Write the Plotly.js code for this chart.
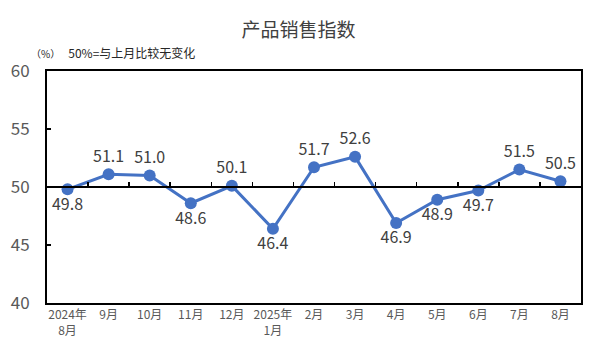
<!DOCTYPE html>
<html><head><meta charset="utf-8">
<script src="https://cdn.plot.ly/plotly-3.0.1.min.js"></script>
<style>body{margin:0;padding:0;background:#fff}#chart{width:591px;height:354px}</style>
</head><body><div id="chart"></div>
<script>
const months = ["2024年<br>8月","9月","10月","11月","12月","2025年<br>1月","2月","3月","4月","5月","6月","7月","8月"];
const salesIndex = [49.8,51.1,51.0,48.6,50.1,46.4,51.7,52.6,46.9,48.9,49.7,51.5,50.5];
const labelPos = ["bottom center","top center","top center","bottom center","top center","bottom center","top center","top center","bottom center","bottom center","bottom center","top center","top center"];
const yTicks = [40,45,50,55,60];
const FONT = '"Noto Sans CJK SC", "Noto Sans", sans-serif';

const traces = [
  {x: months, y: salesIndex, type:'scatter', mode:'lines+markers+text',
   text: salesIndex.map(v=>v.toFixed(1)), textposition: labelPos,
   textfont:{family:FONT, size:16, color:'#404040'},
   line:{color:'#4472C4', width:3}, marker:{color:'#4472C4', size:12},
   cliponaxis:false, hoverinfo:'skip', xaxis:'x', yaxis:'y'},
  {x: months, y: salesIndex, type:'scatter', mode:'none', hoverinfo:'skip', showlegend:false, xaxis:'x2', yaxis:'y'}
];

const layout = {
  width:591, height:354,
  margin:{l:47, r:10, t:71, b:51},
  paper_bgcolor:'#fff', plot_bgcolor:'#fff',
  showlegend:false,
  font:{family:FONT},
  title:{text:'产品销售指数', x:0.505, xanchor:'center', y:0.915, yanchor:'middle',
         font:{family:FONT, size:19, color:'#404040'}},
  xaxis:{type:'category', categoryarray: months, range:[-0.5,12.5],
         showline:true, linecolor:'#000', linewidth:2, mirror:true,
         ticks:'', showgrid:false, zeroline:false,
         tickfont:{family:FONT, size:12, color:'#595959'}},
  xaxis2:{type:'category', categoryarray: months, range:[-0.5,12.5], overlaying:'x',
          anchor:'free', position:0.5, side:'bottom',
          showline:true, linecolor:'#000', linewidth:2,
          ticks:'inside', tickson:'boundaries', ticklen:4, tickwidth:1.5, tickcolor:'#000',
          showticklabels:false, showgrid:false, zeroline:false},
  yaxis:{range:[40,60], tickvals:yTicks, showline:true, linecolor:'#000', linewidth:2, mirror:true,
         ticks:'inside', ticklen:4, tickwidth:1.5, tickcolor:'#000',
         showgrid:false, zeroline:false, ticklabelstandoff:12,
         tickfont:{family:FONT, size:17, color:'#595959'}},
  annotations:[
    {xref:'paper', yref:'paper', x:-0.033, y:1.08, xanchor:'left', yanchor:'middle', showarrow:false,
     text:'<span style="font-size:10px">（%）</span>   50%=与上月比较无变化',
     font:{family:FONT, size:12, color:'#262626'}}
  ]
};
Plotly.newPlot('chart', traces, layout, {displayModeBar:false, staticPlot:true});
</script></body></html>
